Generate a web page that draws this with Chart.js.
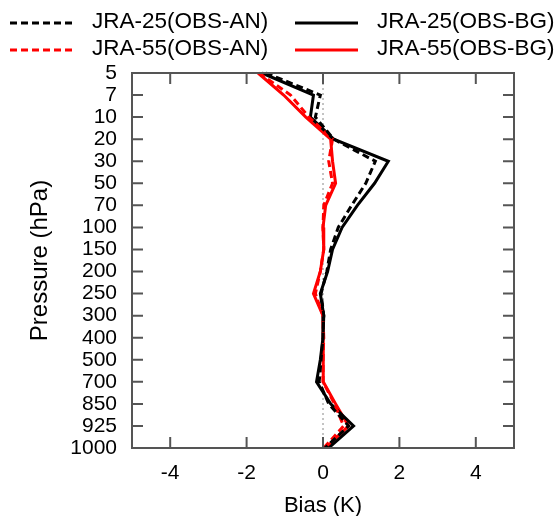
<!DOCTYPE html>
<html>
<head>
<meta charset="utf-8">
<script src="https://cdn.jsdelivr.net/npm/chart.js@4"></script>
<style>
  html, body { margin: 0; padding: 0; background: #fff; }
  #wrap { width: 559px; height: 516px; }
</style>
</head>
<body>
<div id="wrap"><canvas id="chart" width="559" height="516"></canvas></div>
<script>
// pressure levels, top to bottom
const levels = ['5', '7', '10', '20', '30', '50', '70', '100', '150', '200', '250', '300', '400', '500', '700', '850', '925', '1000'];
const biasTicks = [-4, -2, 0, 2, 4];

// bias (K) per level
const jra25An = [-1.5, -0.07, -0.2, 0.28, 1.37, 1.12, 0.75, 0.4, 0.2, 0.1, -0.05, 0.02, 0.0, -0.05, -0.1, 0.15, 0.67, 0.05];
const jra25Bg = [-1.6, -0.25, -0.33, 0.28, 1.71, 1.35, 0.9, 0.5, 0.25, 0.12, -0.07, 0.02, 0.0, -0.07, -0.17, 0.2, 0.8, 0.15];
const jra55An = [-1.68, -0.85, -0.37, 0.25, 0.15, 0.25, 0.02, 0.0, 0.02, -0.07, -0.2, 0.0, 0.02, 0.0, 0.0, 0.3, 0.54, 0.02];
const jra55Bg = [-1.7, -1.03, -0.45, 0.2, 0.25, 0.33, 0.07, 0.0, 0.02, -0.07, -0.25, 0.0, 0.02, 0.0, 0.0, 0.33, 0.67, 0.07];

const FONT = "'Liberation Sans', Arial, sans-serif";

const frame = {
  id: 'frame',
  beforeDatasetsDraw(chart) {
    const { ctx, chartArea: a, scales: { x } } = chart;
    const x0 = x.getPixelForValue(0);
    ctx.save();
    ctx.strokeStyle = '#888';
    ctx.lineWidth = 1;
    ctx.setLineDash([2, 3]);
    ctx.beginPath();
    ctx.moveTo(x0, a.top);
    ctx.lineTo(x0, a.bottom);
    ctx.stroke();
    ctx.restore();
  },
  afterDraw(chart) {
    const { ctx, chartArea: a, scales: { x, y } } = chart;
    const len = 11;
    ctx.save();
    ctx.strokeStyle = '#555';
    ctx.lineWidth = 2;
    ctx.beginPath();
    x.ticks.forEach((t, i) => {
      const px = x.getPixelForTick(i);
      ctx.moveTo(px, a.bottom); ctx.lineTo(px, a.bottom - len);
      ctx.moveTo(px, a.top); ctx.lineTo(px, a.top + len);
    });
    y.ticks.forEach((t, i) => {
      if (i === 0 || i === y.ticks.length - 1) return;
      const py = y.getPixelForTick(i);
      ctx.moveTo(a.left, py); ctx.lineTo(a.left + len, py);
      ctx.moveTo(a.right, py); ctx.lineTo(a.right - len, py);
    });
    ctx.stroke();
    ctx.strokeRect(a.left, a.top, a.right - a.left, a.bottom - a.top);

    // legend, two columns
    const spots = [[10, 23], [10, 50], [295, 23], [295, 50]];
    ctx.font = '22.5px ' + FONT;
    ctx.textBaseline = 'middle';
    ctx.fillStyle = '#000';
    chart.data.datasets.forEach((ds, i) => {
      const [lx, ly] = spots[i];
      ctx.strokeStyle = ds.borderColor;
      ctx.lineWidth = 3;
      ctx.setLineDash(ds.borderDash || []);
      ctx.beginPath();
      ctx.moveTo(lx, ly);
      ctx.lineTo(lx + 63, ly);
      ctx.stroke();
      ctx.fillText(ds.label, lx + 82, ly - 1);
    });
    ctx.restore();
  }
};

new Chart(document.getElementById('chart'), {
  type: 'line',
  data: {
    labels: levels,
    datasets: [
      { label: 'JRA-25(OBS-AN)', data: jra25An, borderColor: '#000', borderDash: [7, 4] },
      { label: 'JRA-55(OBS-AN)', data: jra55An, borderColor: '#f00', borderDash: [7, 4] },
      { label: 'JRA-25(OBS-BG)', data: jra25Bg, borderColor: '#000' },
      { label: 'JRA-55(OBS-BG)', data: jra55Bg, borderColor: '#f00' },
    ],
  },
  options: {
    responsive: false,
    animation: false,
    indexAxis: 'y',
    layout: { padding: { top: 73, right: 45, left: 0, bottom: 0 } },
    elements: {
      line: { borderWidth: 3, tension: 0, fill: false },
      point: { radius: 0 },
    },
    plugins: {
      legend: { display: false },
      tooltip: { enabled: false },
    },
    scales: {
      x: {
        type: 'linear',
        min: -5,
        max: 5,
        afterBuildTicks: (s) => { s.ticks = biasTicks.map(v => ({ value: v })); },
        afterFit: (s) => { s.height = 68; },
        grid: { display: false, drawTicks: false },
        border: { display: false },
        ticks: { font: { family: FONT, size: 21 }, color: '#000', padding: 13 },
        title: { display: true, text: 'Bias (K)', font: { family: FONT, size: 22 }, color: '#000', padding: { top: 0, bottom: -3 } },
      },
      y: {
        type: 'category',
        afterFit: (s) => { s.width = 132; },
        grid: { display: false, drawTicks: false },
        border: { display: false },
        ticks: { autoSkip: false, font: { family: FONT, size: 21 }, color: '#000', padding: 15 },
        title: { display: true, text: 'Pressure (hPa)', font: { family: FONT, size: 24 }, color: '#000', padding: { top: 26, bottom: 0 } },
      },
    },
  },
  plugins: [frame],
});
</script>
</body>
</html>
